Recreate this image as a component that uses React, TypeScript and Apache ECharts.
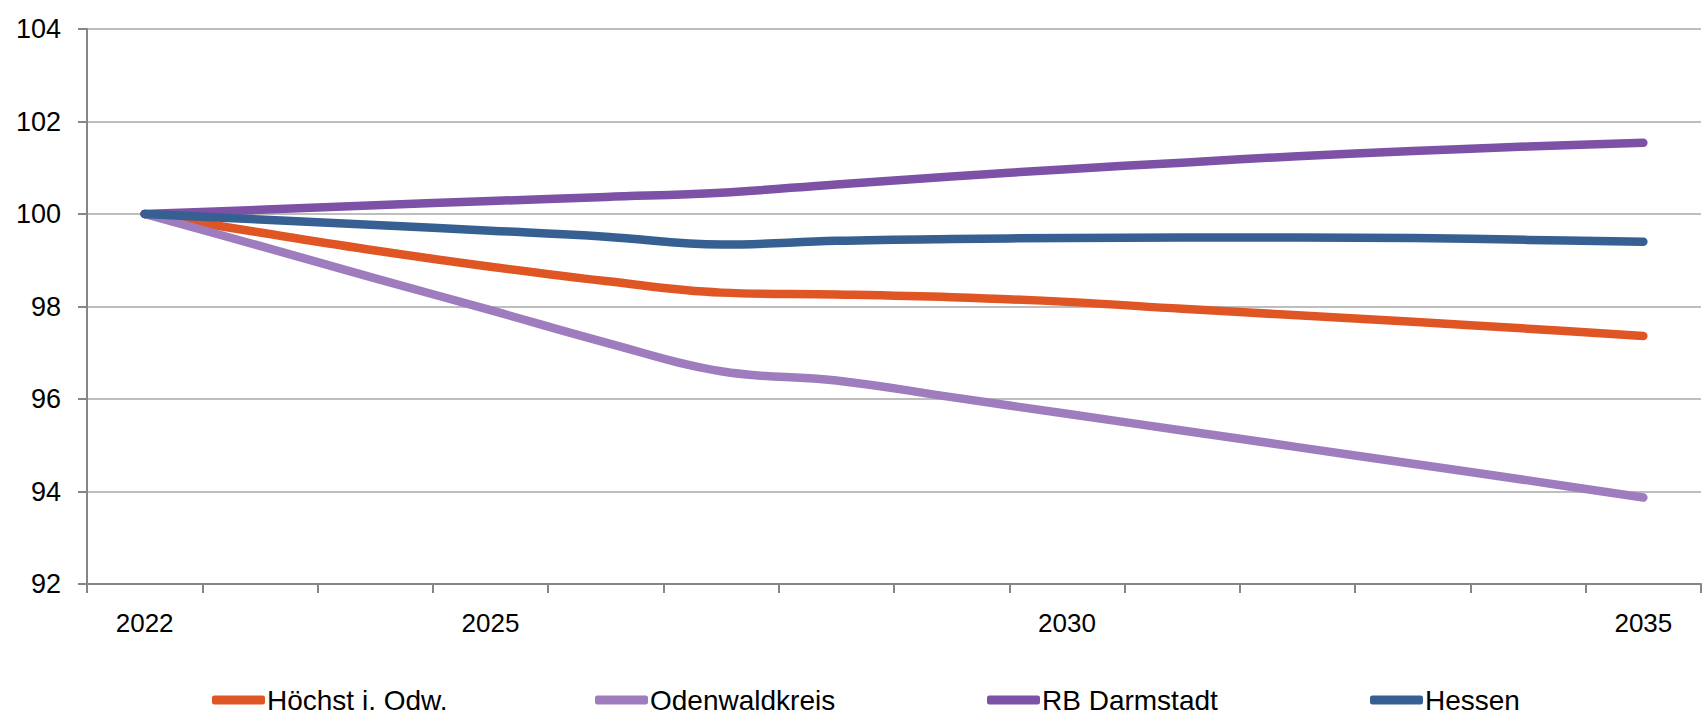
import React, { useEffect, useRef } from "react";
import * as echarts from "echarts";

const years = ["2022","2023","2024","2025","2026","2027","2028","2029","2030","2031","2032","2033","2034","2035"];
const shownYears = ["2022", "2025", "2030", "2035"];
const seriesNames = ["Höchst i. Odw.", "Odenwaldkreis", "RB Darmstadt", "Hessen"];
const hoechst = [100, 99.6, 99.21, 98.86, 98.55, 98.3, 98.26, 98.2, 98.1, 97.95, 97.81, 97.67, 97.52, 97.36];
const odenwald = [100, 99.31, 98.61, 97.92, 97.22, 96.6, 96.4, 96.04, 95.68, 95.32, 94.96, 94.6, 94.24, 93.87];
const rbDarmstadt = [100, 100.09, 100.19, 100.28, 100.37, 100.46, 100.64, 100.81, 100.97, 101.11, 101.25, 101.36, 101.46, 101.54];
const hessen = [100, 99.88, 99.76, 99.64, 99.51, 99.34, 99.42, 99.46, 99.48, 99.49, 99.49, 99.48, 99.44, 99.4];
const colors = ["#DF5524", "#9E7CBE", "#7D51A5", "#366092"];

const FONT = "'Liberation Sans', Arial, sans-serif";

export default function App() {
  const ref = useRef<HTMLDivElement>(null);
  useEffect(() => {
    document.body.style.margin = "0";
    const chart = echarts.init(ref.current!, null, { renderer: "svg" });
    const data = [hoechst, odenwald, rbDarmstadt, hessen];
    const legendLefts = [207, 590, 982, 1365];
    chart.setOption({
      animation: false,
      textStyle: { fontFamily: FONT },
      grid: { left: 87, right: 4, top: 29, bottom: 134, containLabel: false },
      legend: seriesNames.map((n, i) => ({
        data: [n],
        left: legendLefts[i],
        top: 681,
        icon: "roundRect",
        itemWidth: 53,
        itemHeight: 9,
        textStyle: { fontSize: 28, color: "#000", fontFamily: FONT, padding: [0, 0, 0, -3] },
        selectedMode: false,
      })),
      xAxis: {
        type: "category",
        data: years,
        boundaryGap: true,
        axisLine: { lineStyle: { color: "#868686", width: 2 } },
        axisTick: { show: true, interval: 0, length: 9, lineStyle: { color: "#868686", width: 2 } },
        axisLabel: {
          interval: (idx: number, val: string) => shownYears.includes(val),
          fontSize: 26,
          color: "#000",
          margin: 26,
          fontFamily: FONT,
        },
        splitLine: { show: false },
      },
      yAxis: {
        type: "value",
        min: 92,
        max: 104,
        interval: 2,
        axisLine: { show: true, lineStyle: { color: "#868686", width: 2 } },
        axisTick: { show: true, length: 9, lineStyle: { color: "#868686", width: 2 } },
        axisLabel: { fontSize: 27, color: "#000", margin: 26, fontFamily: FONT },
        splitLine: { lineStyle: { color: "#A8A8A8", width: 1.5 } },
      },
      series: seriesNames.map((n, i) => ({
        name: n,
        type: "line",
        data: data[i],
        smooth: 0.4,
        showSymbol: false,
        symbol: "none",
        color: colors[i],
        lineStyle: { width: 8.5, color: colors[i], cap: "round", join: "round" },
      })),
    });
    return () => chart.dispose();
  }, []);
  return <div ref={ref} style={{ position: "absolute", left: 0, top: 0, width: 1705, height: 718 }} />;
}
